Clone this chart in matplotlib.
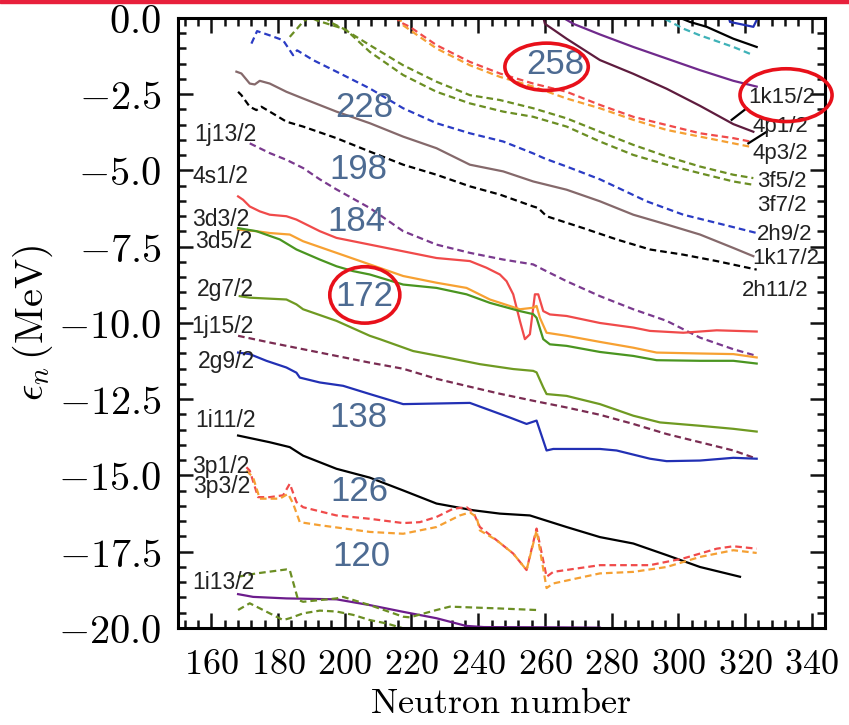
import matplotlib
matplotlib.use("Agg")
import matplotlib.pyplot as plt
from matplotlib.patches import Ellipse, Rectangle
from matplotlib.ticker import MultipleLocator, FuncFormatter

plt.rcParams['mathtext.fontset'] = 'cm'
plt.rcParams['font.family'] = ['Liberation Sans', 'DejaVu Sans']

# neutron single-particle levels (N, energy in MeV)
n_2h9 = [172, 173.7, 177.5, 181.5, 184.5, 185.7, 190.5, 197.5, 207.5, 217.5, 227.5, 237.5, 247.5, 256.5, 260, 266.5, 276.5, 290.5, 301.5, 311.5, 323.5]
e_2h9 = [-0.84, -0.43, -0.57, -0.73, -1.22, -1.06, -1.38, -1.76, -2.31, -2.96, -3.45, -3.78, -4.05, -4.44, -4.61, -4.87, -5.29, -6.01, -6.45, -6.72, -7.05]

n_1k17 = [167.5, 169, 171.5, 173, 174.5, 177.5, 182.5, 187.5, 197.5, 207.5, 217.5, 227.5, 237.5, 247.5, 256.5, 266.5, 276.5, 286.5, 296.5, 306.5, 316.5, 322.5]
e_1k17 = [-1.76, -1.82, -2.15, -2.18, -2.06, -2.15, -2.42, -2.64, -3.07, -3.45, -3.89, -4.27, -4.81, -5.03, -5.36, -5.63, -6.01, -6.45, -6.77, -7.10, -7.54, -7.81]

n_2h11 = [168, 169, 171.5, 173.5, 175, 177.5, 182.5, 187.5, 197.5, 207.5, 217.5, 227.5, 237.5, 246.5, 256.5, 258, 260.5, 271.5, 281.5, 291.5, 301.5, 311.5, 323.5]
e_2h11 = [-2.42, -2.53, -2.91, -3.02, -2.91, -3.07, -3.40, -3.56, -3.94, -4.38, -4.81, -5.14, -5.52, -5.79, -6.18, -6.23, -6.50, -6.89, -7.26, -7.59, -7.76, -7.97, -8.25]

n_1j13 = [171.5, 174.5, 177.5, 182.5, 187.5, 192.5, 197.5, 207.5, 217.5, 227.5, 237.5, 247.5, 256.5, 259.5, 266.5, 276.5, 286.5, 296.5, 306.5, 316.5, 323.5]
e_1j13 = [-4.11, -4.27, -4.43, -4.65, -4.92, -5.29, -5.62, -6.23, -6.99, -7.43, -7.70, -7.92, -8.08, -8.25, -8.63, -9.12, -9.55, -9.93, -10.48, -10.86, -11.08]

n_4s1 = [168, 169.5, 171.5, 174.5, 177.5, 182.5, 185.5, 192.5, 197.5, 207.5, 217.5, 227.5, 237.5, 242.5, 246.5, 248.5, 250.5, 252.5, 254, 255.5, 257, 258, 259.5, 261.5, 266.5, 276.5, 286.5, 291.5, 301.5, 311.5, 323.5]
e_4s1 = [-5.85, -5.96, -6.18, -6.34, -6.45, -6.50, -6.61, -6.99, -7.21, -7.43, -7.65, -7.87, -7.97, -8.19, -8.41, -8.63, -9.06, -9.93, -10.53, -10.37, -9.06, -9.06, -9.61, -9.72, -9.77, -10.00, -10.15, -10.26, -10.32, -10.24, -10.28]

n_3d3 = [168, 173.5, 177.5, 183.5, 187.5, 197.5, 207.5, 217.5, 227.5, 236.5, 243.5, 252.5, 256.5, 257.5, 258.5, 260.5, 266.5, 276.5, 286.5, 293.5, 306.5, 316.5, 323.5]
e_3d3 = [-6.94, -6.99, -7.05, -7.10, -7.32, -7.70, -8.08, -8.46, -8.68, -8.85, -9.23, -9.55, -9.50, -9.44, -9.83, -10.32, -10.42, -10.62, -10.81, -10.97, -11.00, -11.02, -11.13]

n_3d5 = [168, 173.5, 180.5, 185.5, 192.5, 197.5, 202.5, 207.5, 217.5, 227.5, 236.5, 243.5, 252.5, 256.5, 257.5, 259.5, 261.5, 266.5, 276.5, 286.5, 293.5, 306.5, 316.5, 323.5]
e_3d5 = [-6.89, -6.99, -7.26, -7.59, -7.92, -8.14, -8.30, -8.41, -8.74, -8.85, -9.06, -9.34, -9.61, -9.71, -9.83, -10.53, -10.70, -10.75, -10.95, -11.08, -11.22, -11.24, -11.24, -11.33]

n_2g7 = [168.5, 171.5, 182.5, 185.5, 187.5, 197.5, 207.5, 210.5, 220.5, 230.5, 240.5, 250.5, 256.5, 257.5, 259.5, 260.5, 266.5, 276.5, 286.5, 294.5, 306.5, 316.5, 323.5]
e_2g7 = [-9.12, -9.17, -9.23, -9.39, -9.55, -9.93, -10.42, -10.53, -10.92, -11.13, -11.35, -11.51, -11.57, -11.62, -12.11, -12.33, -12.39, -12.66, -13.04, -13.26, -13.37, -13.47, -13.56]

n_1j15 = [168, 177.5, 187.5, 197.5, 207.5, 217.5, 227.5, 237.5, 246.5, 256.5, 266.5, 276.5, 286.5, 296.5, 306.5, 316.5, 323.5]
e_1j15 = [-10.42, -10.64, -10.86, -11.08, -11.30, -11.50, -11.83, -12.09, -12.32, -12.55, -12.77, -13.01, -13.31, -13.64, -13.91, -14.18, -14.45]

n_2g9 = [168, 171.5, 176.5, 182.5, 185.5, 186.5, 192.5, 199.5, 207.5, 217.5, 227.5, 237.5, 242.5, 249.5, 254.5, 257.5, 260.5, 262.5, 276.5, 281.5, 291.5, 296.5, 306.5, 316.5, 323.5]
e_2g9 = [-10.97, -11.02, -11.24, -11.46, -11.63, -11.79, -11.95, -12.06, -12.33, -12.66, -12.64, -12.62, -12.82, -13.10, -13.31, -13.20, -14.18, -14.13, -14.13, -14.18, -14.45, -14.53, -14.51, -14.42, -14.45]

n_1i11 = [168, 177.5, 183.5, 187.5, 197.5, 207.5, 217.5, 227.5, 235.5, 238.5, 246.5, 255.5, 266.5, 276.5, 286.5, 296.5, 306.5, 318.5]
e_1i11 = [-13.69, -13.91, -14.07, -14.35, -14.78, -15.07, -15.49, -15.92, -16.08, -16.14, -16.25, -16.31, -16.69, -17.02, -17.23, -17.61, -18.00, -18.32]

n_3p1 = [170.5, 171.5, 174, 177.5, 181.5, 183.5, 185.5, 187.5, 197.5, 207.5, 217.5, 222.5, 227.5, 232.5, 236.5, 238.5, 240.5, 245.5, 250.5, 254.5, 257.5, 260.5, 262.5, 276.5, 291.5, 301.5, 311.5, 316.5, 323.5]
e_3p1 = [-14.73, -14.84, -15.71, -15.71, -15.65, -15.27, -15.87, -16.04, -16.31, -16.42, -16.56, -16.53, -16.36, -16.09, -16.04, -16.20, -16.69, -17.12, -17.56, -18.10, -16.74, -18.32, -18.16, -17.94, -17.94, -17.72, -17.40, -17.32, -17.40]

n_3p3 = [170.5, 172.5, 174.5, 180.5, 183, 184.5, 186.5, 192.5, 207.5, 217.5, 227.5, 234.5, 237.5, 239.5, 240.5, 245.5, 250.5, 254.5, 257.5, 260.5, 262.5, 276.5, 286.5, 296.5, 306.5, 316.5, 323.5]
e_3p3 = [-14.84, -15.06, -15.76, -15.76, -15.60, -15.92, -16.53, -16.63, -16.85, -16.91, -16.69, -16.31, -16.21, -16.36, -16.80, -17.12, -17.56, -18.10, -16.80, -18.69, -18.54, -18.21, -18.16, -18.00, -17.67, -17.45, -17.54]

n_1i13 = [168, 172.5, 182.5, 197.5, 207.5, 217.5, 227.5, 236.3, 241.7, 265, 276.5]
e_1i13 = [-18.89, -18.98, -19.03, -19.06, -19.25, -19.47, -19.68, -19.93, -19.97, -19.98, -19.99]

n_olive_a = [168, 173.5, 182.5, 183.5, 186, 187.5, 197.5, 199.5, 207.5, 217.5, 219.5, 227.5, 231.5, 246.5, 257.5]
e_olive_a = [-18.32, -18.21, -18.08, -18.10, -19.08, -19.14, -19.03, -18.98, -19.25, -19.63, -19.65, -19.41, -19.30, -19.36, -19.41]

n_olive_b = [168, 171.5, 175.5, 181.5, 183.5, 187.5, 192.5, 197.5, 202.5, 207.5, 212.5, 217.5, 219.5]
e_olive_b = [-19.41, -19.19, -19.41, -19.74, -19.68, -19.52, -19.43, -19.46, -19.57, -19.74, -19.85, -20.01, -20.10]

n_3f5 = [183.5, 185.6, 187.4, 189.5, 191.6, 199.5, 207.5, 217.5, 227.5, 237.5, 246.5, 256.5, 266.5, 276.5, 286.5, 296.5, 306.5, 316.5, 322.5]
e_3f5 = [-0.62, -0.36, -0.13, 0.03, -0.08, -0.35, -0.89, -1.55, -2.09, -2.53, -2.69, -2.96, -3.29, -3.73, -4.16, -4.54, -4.87, -5.14, -5.25]

n_3f7 = [194, 195.5, 200.5, 207.5, 217.5, 227.5, 237.5, 247.5, 256.5, 266.5, 276.5, 286.5, 296.5, 306.5, 316.5, 322.5]
e_3f7 = [0.07, -0.13, -0.40, -1.11, -1.87, -2.42, -2.80, -3.07, -3.24, -3.56, -4.05, -4.49, -4.81, -5.09, -5.36, -5.47]

n_4p1 = [215, 216.5, 219.5, 227.5, 237.5, 246.5, 256.5, 266.5, 276.5, 286.5, 296.5, 306.5, 316.5, 321.5]
e_4p1 = [0.07, -0.13, -0.29, -0.89, -1.44, -1.82, -2.15, -2.42, -2.85, -3.24, -3.51, -3.78, -3.94, -4.05]

n_4p3 = [216, 217.5, 227.5, 237.5, 246.5, 256.5, 266.5, 276.5, 286.5, 296.5, 306.5, 316.5, 321.5]
e_4p3 = [0.07, -0.24, -1.00, -1.55, -1.93, -2.25, -2.64, -2.96, -3.34, -3.67, -3.89, -4.11, -4.22]

n_1k15 = [259.4, 260, 266.5, 276.5, 286.5, 296.5, 306.5, 316.5, 322.5]
e_1k15 = [0.07, -0.19, -0.68, -1.38, -1.83, -2.32, -2.88, -3.48, -3.73]

n_top_purple = [264.5, 268.5, 276.5, 286.5, 296.5, 306.5, 316.5, 323.5]
e_top_purple = [0.07, -0.19, -0.54, -0.95, -1.33, -1.71, -2.06, -2.25]

n_top_black = [299, 303.5, 308.5, 316.5, 323.5]
e_top_black = [0.07, -0.13, -0.29, -0.68, -0.95]

n_top_cyan = [296, 301.5, 306.5, 316.5, 322.5]
e_top_cyan = [-0.03, -0.35, -0.57, -0.95, -1.22]

n_top_blue = [315, 315.5, 322.5, 323.5, 324]
e_top_blue = [0.07, -0.13, -0.29, -0.07, 0.07]

# level labels
left_labels = ["1j13/2", "4s1/2", "3d3/2", "3d5/2", "2g7/2", "1j15/2", "2g9/2", "1i11/2", "3p1/2", "3p3/2", "1i13/2"]
left_label_e = [-3.82, -5.20, -6.60, -7.32, -8.89, -10.13, -11.27, -13.20, -14.71, -15.36, -18.50]
left_label_n = [155, 154.4, 154.1, 155, 155.6, 154.1, 155.9, 155.3, 154.1, 154.4, 154.4]

right_labels = ["1k15/2", "4p1/2", "4p3/2", "3f5/2", "3f7/2", "2h9/2", "1k17/2", "2h11/2"]
right_label_e = [-2.61, -3.56, -4.44, -5.36, -6.14, -7.09, -7.88, -8.92]
right_label_n = [320.9, 322.1, 322.1, 323.6, 323.6, 323.6, 322.1, 319.1]

magic = ["258", "228", "198", "184", "172", "138", "126", "120"]
magic_n = [263, 206, 204, 203.6, 206, 204, 204.5, 205]
magic_e = [-1.54, -2.94, -4.97, -6.67, -9.12, -13.10, -15.52, -17.65]

# red circles drawn on the slide: centre N, centre E, width, height
circ_n = [260.5, 332.3, 206]
circ_e = [-1.60, -2.53, -9.08]
circ_w = [25, 27.6, 21]
circ_h = [1.55, 1.73, 1.85]

curves = [
    (n_2h9, e_2h9, '#2b3cc4', '--'),
    (n_1k17, e_1k17, '#85696b', '-'),
    (n_2h11, e_2h11, 'black', '--'),
    (n_1j13, e_1j13, '#7a3a8e', '--'),
    (n_4s1, e_4s1, '#f04a4a', '-'),
    (n_3d3, e_3d3, '#f7a132', '-'),
    (n_3d5, e_3d5, '#4a9520', '-'),
    (n_2g7, e_2g7, '#6f9a22', '-'),
    (n_1j15, e_1j15, '#7a2c52', '--'),
    (n_2g9, e_2g9, '#2230b4', '-'),
    (n_1i11, e_1i11, 'black', '-'),
    (n_3p1, e_3p1, '#f04a4a', '--'),
    (n_3p3, e_3p3, '#f5a033', '--'),
    (n_1i13, e_1i13, '#6c1c8c', '-'),
    (n_olive_a, e_olive_a, '#6b8e23', '--'),
    (n_olive_b, e_olive_b, '#6b8e23', '--'),
    (n_3f5, e_3f5, '#6b8e23', '--'),
    (n_3f7, e_3f7, '#6b8e23', '--'),
    (n_4p1, e_4p1, '#f04a4a', '--'),
    (n_4p3, e_4p3, '#f5a033', '--'),
    (n_1k15, e_1k15, '#5e1c3e', '-'),
    (n_top_purple, e_top_purple, '#702a8c', '-'),
    (n_top_black, e_top_black, 'black', '-'),
    (n_top_cyan, e_top_cyan, '#3fb2b8', '--'),
    (n_top_blue, e_top_blue, '#2230b4', '-'),
]

fig = plt.figure(figsize=(8.49, 7.25), dpi=100)
ax = fig.add_axes([0.2097, 0.1338, 0.7621, 0.8414])

for n, e, c, ls in curves:
    if ls == '--':
        ax.plot(n, e, color=c, lw=1.6, ls=ls, dashes=(3, 1.8))
    else:
        ax.plot(n, e, color=c, lw=1.6, ls=ls)

# leader lines for the right-hand labels
ax.plot([316, 320.5], [-3.34, -2.96], color='black', lw=1.6)
ax.plot([321, 326.5], [-4.11, -3.73], color='black', lw=1.6)

for t, n, e in zip(left_labels, left_label_n, left_label_e):
    ax.text(n, e, t, fontsize=16.5, ha='left', va='center', color='#222222')
for t, n, e in zip(right_labels, right_label_n, right_label_e):
    ax.text(n, e, t, fontsize=16, ha='left', va='center', color='#222222', clip_on=False)
for t, n, e in zip(magic, magic_n, magic_e):
    ax.text(n, e, t, fontsize=25, ha='center', va='center', color='#4d6b92')

for n, e, w, h in zip(circ_n, circ_e, circ_w, circ_h):
    ax.add_patch(Ellipse((n, e), w, h, fill=False, edgecolor='#e8101a', lw=2.6, clip_on=False, zorder=5))

ax.set_xlim(150, 344)
ax.set_ylim(-20, 0)
ax.xaxis.set_major_locator(MultipleLocator(20))
ax.xaxis.set_minor_locator(MultipleLocator(4))
ax.yaxis.set_major_locator(MultipleLocator(2.5))
ax.yaxis.set_minor_locator(MultipleLocator(0.5))
ax.xaxis.set_major_formatter(FuncFormatter(lambda v, p: r'$%d$' % v))
ax.yaxis.set_major_formatter(FuncFormatter(lambda v, p: r'$%.1f$' % v))
ax.tick_params(which='both', direction='in', top=True, right=True, width=1.8, color='#111111')
ax.tick_params(which='major', length=11, pad=12)
ax.tick_params(axis='x', which='major', labelsize=26, pad=14)
ax.tick_params(axis='y', which='major', labelsize=29)
ax.tick_params(which='minor', length=6)
for s in ax.spines.values():
    s.set_linewidth(2.2)

# x label placed directly so it sits near the bottom edge like the slide
fig.text(0.59, 0.03, r'$\mathrm{Neutron\ number}$', fontsize=26, ha='center', va='center')
ax.set_ylabel(r'$\epsilon_n\,(\mathrm{MeV})$', fontsize=29, labelpad=2)

# slide's red rule along the top edge
fig.add_artist(Rectangle((0, 1 - 3 / 725), 1, 3 / 725, transform=fig.transFigure, color='#e8203c'))

fig.savefig("out.png", dpi=100)
